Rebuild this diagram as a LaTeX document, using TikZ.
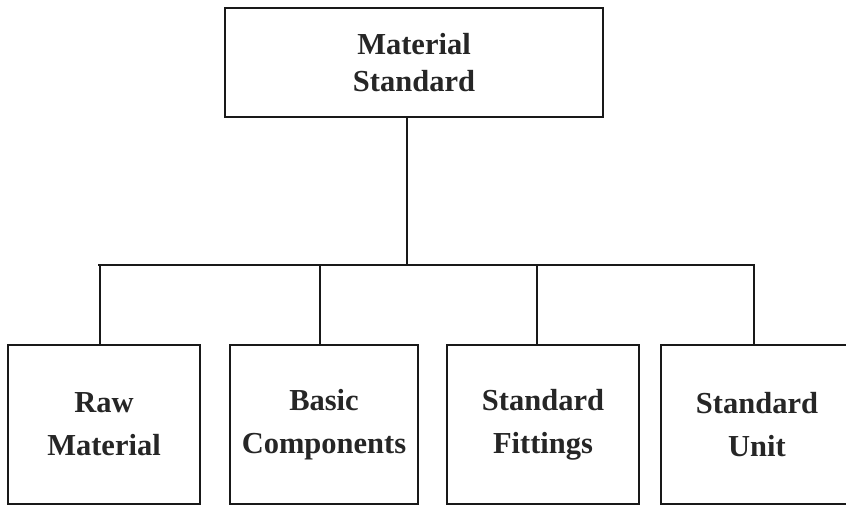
\documentclass[tikz,border=0pt]{standalone}
\usepackage{fontspec}
\setmainfont{Liberation Serif}
\begin{document}
\begin{tikzpicture}[x=1pt,y=-1pt,
  box/.style={draw=black!90, line width=2.4pt, fill=white, inner sep=0pt, align=center,
    font=\fontsize{30.5}{43}\selectfont\bfseries, text=black!85},
  conn/.style={draw=black!90, line width=2.4pt}]
\useasboundingbox (0,0) rectangle (846,506);
\node[box, minimum width=378pt, minimum height=109pt, font=\fontsize{30.5}{37}\selectfont\bfseries] (top) at (414,62.5) {Material\\Standard};
\node[box, minimum width=192pt, minimum height=159pt] (b1) at (104,424.5) {Raw\\Material};
\node[box, minimum width=188pt, minimum height=159pt] (b2) at (324,424.5) {Basic\\Components};
\node[box, minimum width=192pt, minimum height=159pt] (b3) at (543,424.5) {Standard\\Fittings};
\node[box, minimum width=192pt, minimum height=159pt] (b4) at (757,424.5) {Standard\\Unit};
\coordinate (j) at (407,265);
\coordinate (l) at (98,265);
\coordinate (r) at (755,265);
\coordinate (d1) at (100,265);
\coordinate (d2) at (320,265);
\coordinate (d3) at (537,265);
\coordinate (d4) at (754,265);
\draw[conn] (top.south -| j) -- (j);
\draw[conn] (l) -- (r);
\draw[conn] (d1) -- (d1 |- b1.north);
\draw[conn] (d2) -- (d2 |- b2.north);
\draw[conn] (d3) -- (d3 |- b3.north);
\draw[conn] (d4) -- (d4 |- b4.north);
\end{tikzpicture}
\end{document}
